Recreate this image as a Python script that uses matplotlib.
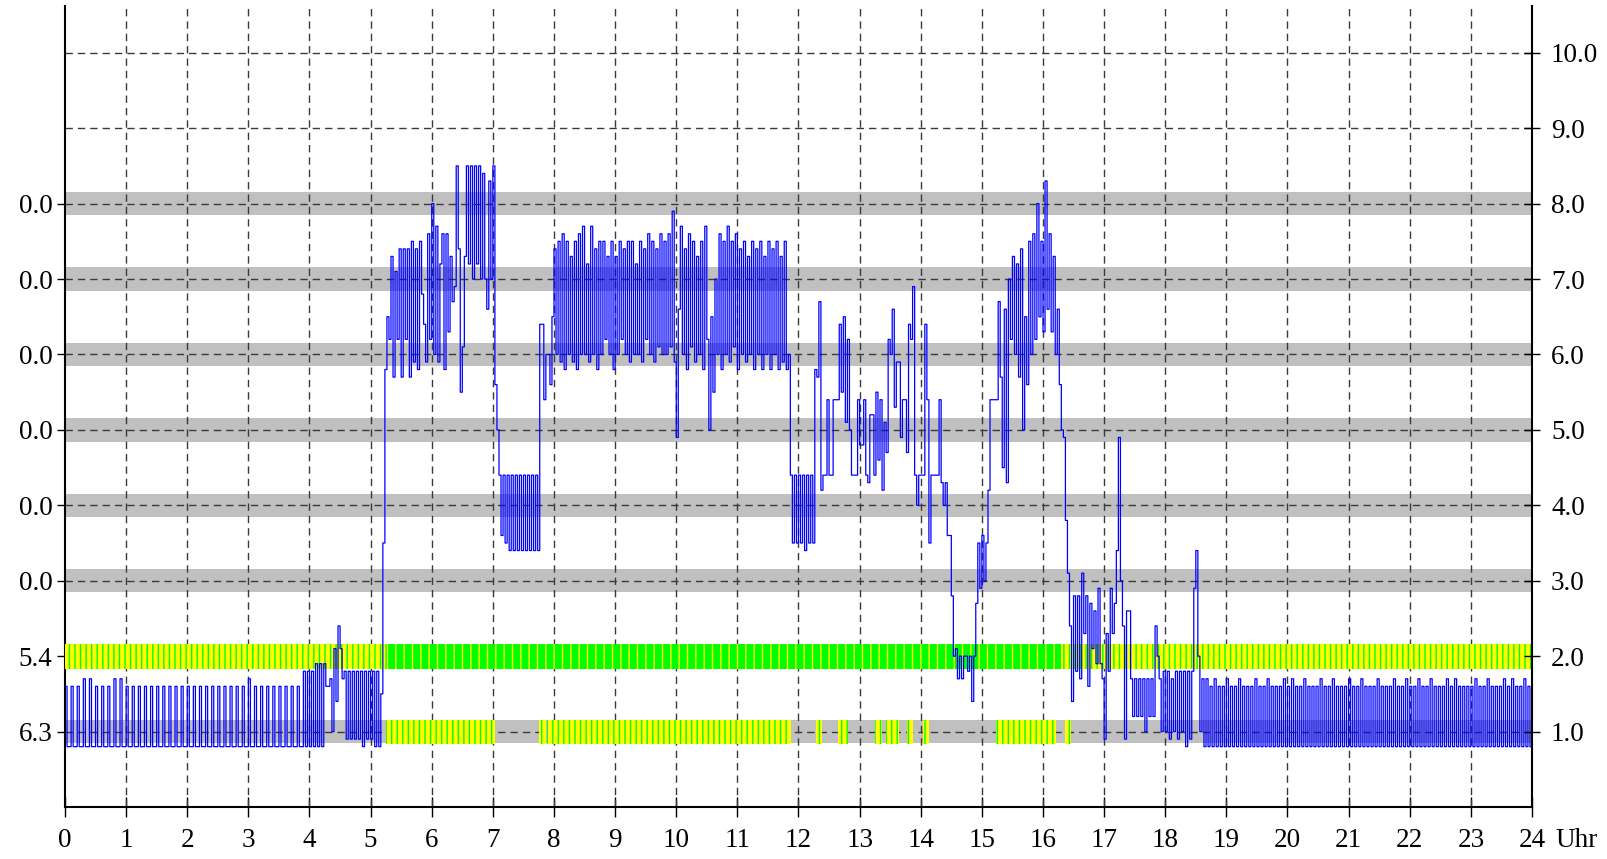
import numpy as np
import matplotlib
matplotlib.use("Agg")
import matplotlib.pyplot as plt

plt.rcParams['font.family'] = ['Liberation Serif', 'DejaVu Serif']
plt.rcParams['hatch.linewidth'] = 1.0

# ---------------- data ----------------
hours = list(range(25))
hour_labels = [str(h) for h in hours]
left_ticks = [1, 2, 3, 4, 5, 6, 7, 8]
left_labels = ['6.3', '5.4', '0.0', '0.0', '0.0', '0.0', '0.0', '0.0']
right_ticks = [1, 2, 3, 4, 5, 6, 7, 8, 9, 10]
right_labels = ['1.0', '2.0', '3.0', '4.0', '5.0', '6.0', '7.0', '8.0', '9.0', '10.0']

gray_band_levels = [1, 3, 4, 5, 6, 7, 8]
band2_yellow = [(0.0, 5.25), (16.3, 24.0)]
band2_green = [(5.25, 16.3)]
band1_spans = [(5.25, 7.03), (7.76, 7.87), (7.89, 11.88), (12.29, 12.38), (12.64, 12.81),
               (13.25, 13.36), (13.43, 13.65), (13.78, 13.88), (14.03, 14.14),
               (15.23, 16.22), (16.36, 16.45)]

sample_minutes = 2  # one value every 2 minutes

v_00_02 = [1.6, 0.8, 0.8, 1.6, 0.8, 0.8, 1.6, 0.8, 0.8, 1.7, 0.8, 0.8, 1.7, 0.8, 0.8,
           1.6, 0.8, 0.8, 1.6, 0.8, 0.8, 1.6, 0.8, 0.8, 1.7, 0.8, 0.8, 1.7, 0.8, 0.8,
           1.6, 0.8, 0.8, 1.6, 0.8, 0.8, 1.6, 0.8, 0.8, 1.6, 0.8, 0.8, 1.6, 0.8, 0.8,
           1.6, 0.8, 0.8, 1.6, 0.8, 0.8, 1.6, 0.8, 0.8, 1.6, 0.8, 0.8, 1.6, 0.8, 0.8]
v_02_04 = [1.6, 0.8, 0.8, 1.6, 0.8, 0.8, 1.6, 0.8, 0.8, 1.6, 0.8, 0.8, 1.6, 0.8, 0.8,
           1.6, 0.8, 0.8, 1.6, 0.8, 0.8, 1.6, 0.8, 0.8, 1.6, 0.8, 0.8, 1.6, 0.8, 0.8,
           1.7, 0.8, 0.8, 1.6, 0.8, 0.8, 1.6, 0.8, 0.8, 1.6, 0.8, 0.8, 1.6, 0.8, 0.8,
           1.6, 0.8, 0.8, 1.6, 0.8, 0.8, 1.6, 0.8, 0.8, 1.6, 0.8, 0.8, 1.8, 0.8, 1.8]
v_04_06 = [0.8, 1.8, 0.8, 1.9, 0.8, 1.9, 0.8, 1.9, 1.6, 1.6,
           1.7, 1.0, 2.1, 1.4, 2.4, 2.1, 1.7, 1.8, 0.9, 1.8,
           0.9, 1.8, 0.9, 1.8, 0.9, 1.8, 0.8, 1.8, 0.9, 1.8,
           0.9, 1.8, 0.8, 1.8, 0.8, 1.5, 3.5, 5.8, 6.5, 6.2,
           7.3, 5.7, 7.1, 6.2, 7.4, 5.7, 7.4, 6.2, 7.4, 5.7,
           7.5, 5.9, 7.4, 5.8, 7.5, 6.8, 6.4, 5.9, 7.6, 6.2]
v_06_08 = [8.0, 6.0, 7.7, 5.9, 7.2, 7.6, 5.8, 7.6, 6.3, 7.3,
           6.7, 6.9, 8.5, 7.4, 5.5, 6.1, 7.3, 8.5, 7.2, 8.5,
           7.0, 8.5, 7.2, 8.5, 7.0, 8.4, 7.0, 6.6, 8.3, 7.0,
           8.5, 5.6, 5.0, 4.4, 3.6, 4.4, 3.5, 4.4, 3.4, 4.4,
           3.4, 4.4, 3.4, 4.4, 3.4, 4.4, 3.4, 4.4, 3.4, 4.4,
           3.4, 4.4, 3.4, 6.4, 6.4, 5.4, 6.0, 6.0, 5.6, 6.5]
v_08_10 = [7.4, 6.0, 7.5, 5.9, 7.6, 5.8, 7.5, 6.0, 7.3, 5.9,
           7.5, 5.8, 7.6, 6.0, 7.7, 6.0, 7.2, 5.9, 7.7, 6.0,
           7.4, 5.8, 7.5, 6.0, 7.5, 6.2, 7.3, 6.0, 7.5, 5.8,
           7.3, 6.0, 7.5, 6.2, 7.4, 6.0, 7.5, 5.9, 7.5, 6.0,
           7.2, 6.0, 7.5, 5.9, 7.4, 6.2, 7.6, 6.0, 7.5, 5.9,
           7.4, 6.1, 7.6, 6.0, 7.5, 6.0, 7.6, 6.1, 7.9, 5.9]
v_10_12 = [4.9, 6.6, 7.7, 6.0, 7.4, 5.8, 7.6, 6.1, 7.5, 5.9,
           7.3, 6.0, 7.5, 5.8, 7.7, 6.2, 5.0, 6.5, 5.5, 7.0,
           6.0, 7.6, 5.8, 7.5, 6.0, 7.7, 5.9, 7.5, 6.1, 7.6,
           5.8, 7.4, 6.0, 7.5, 5.9, 7.3, 6.0, 7.5, 5.8, 7.4,
           6.0, 7.5, 5.8, 7.3, 6.0, 7.5, 5.8, 7.4, 6.0, 7.5,
           5.8, 7.3, 5.9, 7.5, 5.8, 6.0, 4.4, 3.5, 4.4, 3.5]
v_12_14 = [4.4, 3.5, 4.4, 3.4, 4.4, 3.5, 4.4, 3.5, 5.8, 5.7,
           6.7, 4.2, 4.4, 4.4, 5.4, 4.4, 4.4, 5.4, 5.4, 5.4,
           6.4, 5.5, 6.5, 5.1, 6.2, 5.0, 4.4, 4.4, 4.4, 5.4,
           4.8, 4.8, 5.4, 4.4, 4.3, 5.2, 5.2, 4.4, 5.5, 4.6,
           5.4, 4.2, 5.1, 4.7, 6.2, 6.0, 6.6, 5.3, 5.9, 5.9,
           4.9, 5.4, 5.4, 4.7, 6.4, 6.2, 6.9, 4.4, 4.0, 4.4]
v_14_16 = [4.4, 4.4, 6.4, 5.4, 3.5, 4.4, 4.4, 4.4, 4.4, 5.4,
           4.3, 4.0, 4.3, 3.6, 3.6, 2.8, 2.0, 2.1, 1.7, 2.0,
           1.7, 2.0, 2.0, 1.8, 2.0, 1.4, 2.0, 2.7, 3.5, 2.9,
           3.6, 3.0, 3.5, 4.2, 5.4, 5.4, 5.4, 5.4, 6.7, 5.7,
           4.5, 6.6, 4.3, 7.0, 6.2, 7.3, 6.0, 7.2, 5.7, 7.4,
           5.0, 6.5, 5.6, 7.5, 6.0, 7.6, 6.2, 8.0, 6.5, 7.5]
v_16_18 = [6.3, 8.3, 6.6, 7.6, 6.3, 7.3, 6.0, 6.6, 5.6, 5.0,
           4.9, 3.8, 3.1, 2.4, 1.4, 2.8, 1.8, 2.8, 1.7, 3.1,
           2.3, 2.8, 1.6, 2.7, 2.1, 2.6, 1.9, 2.9, 1.9, 1.7,
           0.9, 2.3, 1.8, 2.9, 2.3, 2.7, 3.4, 4.9, 3.0, 2.4,
           0.9, 2.6, 2.6, 1.7, 1.2, 1.7, 1.2, 1.7, 1.2, 1.7,
           1.0, 1.7, 1.2, 1.7, 1.2, 2.4, 2.0, 1.7, 1.0, 1.8]
v_18_20 = [1.0, 1.8, 0.9, 1.7, 1.0, 1.8, 0.9, 1.8, 1.0, 1.8,
           0.8, 1.8, 0.9, 1.8, 2.9, 3.4, 2.0, 1.0, 1.7, 0.8,
           1.7, 0.8, 1.6, 0.8, 1.7, 0.8, 1.6, 0.8, 1.6, 0.8,
           1.7, 0.8, 1.6, 0.8, 1.6, 0.8, 1.7, 0.8, 1.6, 0.8,
           1.6, 0.8, 1.6, 0.8, 1.7, 0.8, 1.6, 0.8, 1.6, 0.8,
           1.7, 0.8, 1.6, 0.8, 1.6, 0.8, 1.6, 0.8, 1.7, 0.8]
v_20_22 = [1.6, 0.8, 1.7, 0.8, 1.6, 0.8, 1.6, 0.8, 1.7, 0.8,
           1.6, 0.8, 1.6, 0.8, 1.6, 0.8, 1.7, 0.8, 1.6, 0.8,
           1.6, 0.8, 1.7, 0.8, 1.6, 0.8, 1.6, 0.8, 1.6, 0.8,
           1.7, 0.8, 1.6, 0.8, 1.6, 0.8, 1.7, 0.8, 1.6, 0.8,
           1.6, 0.8, 1.6, 0.8, 1.7, 0.8, 1.6, 0.8, 1.6, 0.8,
           1.6, 0.8, 1.7, 0.8, 1.6, 0.8, 1.6, 0.8, 1.7, 0.8]
v_22_24 = [1.6, 0.8, 1.6, 0.8, 1.7, 0.8, 1.6, 0.8, 1.6, 0.8,
           1.7, 0.8, 1.6, 0.8, 1.6, 0.8, 1.6, 0.8, 1.7, 0.8,
           1.6, 0.8, 1.7, 0.8, 1.6, 0.8, 1.6, 0.8, 1.6, 0.8,
           1.6, 0.8, 1.7, 0.8, 1.6, 0.8, 1.6, 0.8, 1.7, 0.8,
           1.6, 0.8, 1.6, 0.8, 1.6, 0.8, 1.7, 0.8, 1.6, 0.8,
           1.7, 0.8, 1.6, 0.8, 1.6, 0.8, 1.7, 0.8, 1.6, 0.8, 1.6]

# ---------------- figure ----------------
W, H = 1608, 859
fig = plt.figure(figsize=(W / 100, H / 100), dpi=100)
ax = fig.add_axes([65 / W, 52 / H, (1532 - 65) / W, (853 - 52) / H])
ax.set_xlim(0, 24)
ax.set_ylim(0, 10.62)

values = np.array(v_00_02 + v_02_04 + v_04_06 + v_06_08 + v_08_10 + v_10_12 +
                  v_12_14 + v_14_16 + v_16_18 + v_18_20 + v_20_22 + v_22_24)
times = np.arange(len(values)) * sample_minutes / 60.0

# gray bands
for lv in gray_band_levels:
    ax.axhspan(lv - 0.155, lv + 0.155, color='#c0c0c0', lw=0, zorder=1)

# grid
dash = (0, (5.3, 3.6))
for y in right_ticks:
    ax.axhline(y, color='#3a3a3a', lw=1.0, ls=dash, zorder=2)
for x in hours[1:-1]:
    ax.axvline(x, color='#3a3a3a', lw=1.0, ls=dash, zorder=2)

# coloured status bands
ax.broken_barh([(a, b - a) for a, b in band2_yellow], (2 - 0.165, 0.33),
               facecolors='#ffff00', edgecolors='#00ff00', hatch='|||', linewidth=0, zorder=3)
ax.broken_barh([(a, b - a) for a, b in band2_green], (2 - 0.165, 0.33),
               facecolors='#00ff00', edgecolors='#ffff00', hatch='||', linewidth=0, zorder=3)
ax.broken_barh([(a, b - a) for a, b in band1_spans], (1 - 0.16, 0.32),
               facecolors='#ffff00', edgecolors='#00ff00', hatch='|||', linewidth=0, zorder=3)

# trace
ax.plot(times, values, drawstyle='steps-post', color='#0000ff', lw=0.9, zorder=5)

# axes styling
fs = 19.5
ax.set_xticks(hours)
ax.set_xticklabels(hour_labels)
ax.tick_params(axis='x', direction='inout', length=14.5, width=1, pad=8, labelsize=fs)
ax.set_yticks(left_ticks)
ax.set_yticklabels(left_labels)
ax.tick_params(axis='y', direction='out', length=6, width=1, pad=3, labelsize=fs)
for s in ['top', 'right']:
    ax.spines[s].set_visible(False)
for s in ['left', 'bottom']:
    ax.spines[s].set_linewidth(1.5)

ax2 = ax.twinx()
ax2.set_ylim(ax.get_ylim())
ax2.set_yticks(right_ticks)
ax2.set_yticklabels(right_labels)
ax2.tick_params(axis='y', direction='inout', length=11.5, width=1, pad=8, labelsize=fs)
for s in ['top', 'left', 'bottom']:
    ax2.spines[s].set_visible(False)
ax2.spines['right'].set_linewidth(1.5)

ax.annotate('Uhr', xy=(24, 0), xycoords=('data', 'axes fraction'),
            xytext=(16.5, -(14.5 / 2 + 8)), textcoords='offset points',
            ha='left', va='top', fontsize=fs, annotation_clip=False)

fig.savefig('out.png', dpi=100)
